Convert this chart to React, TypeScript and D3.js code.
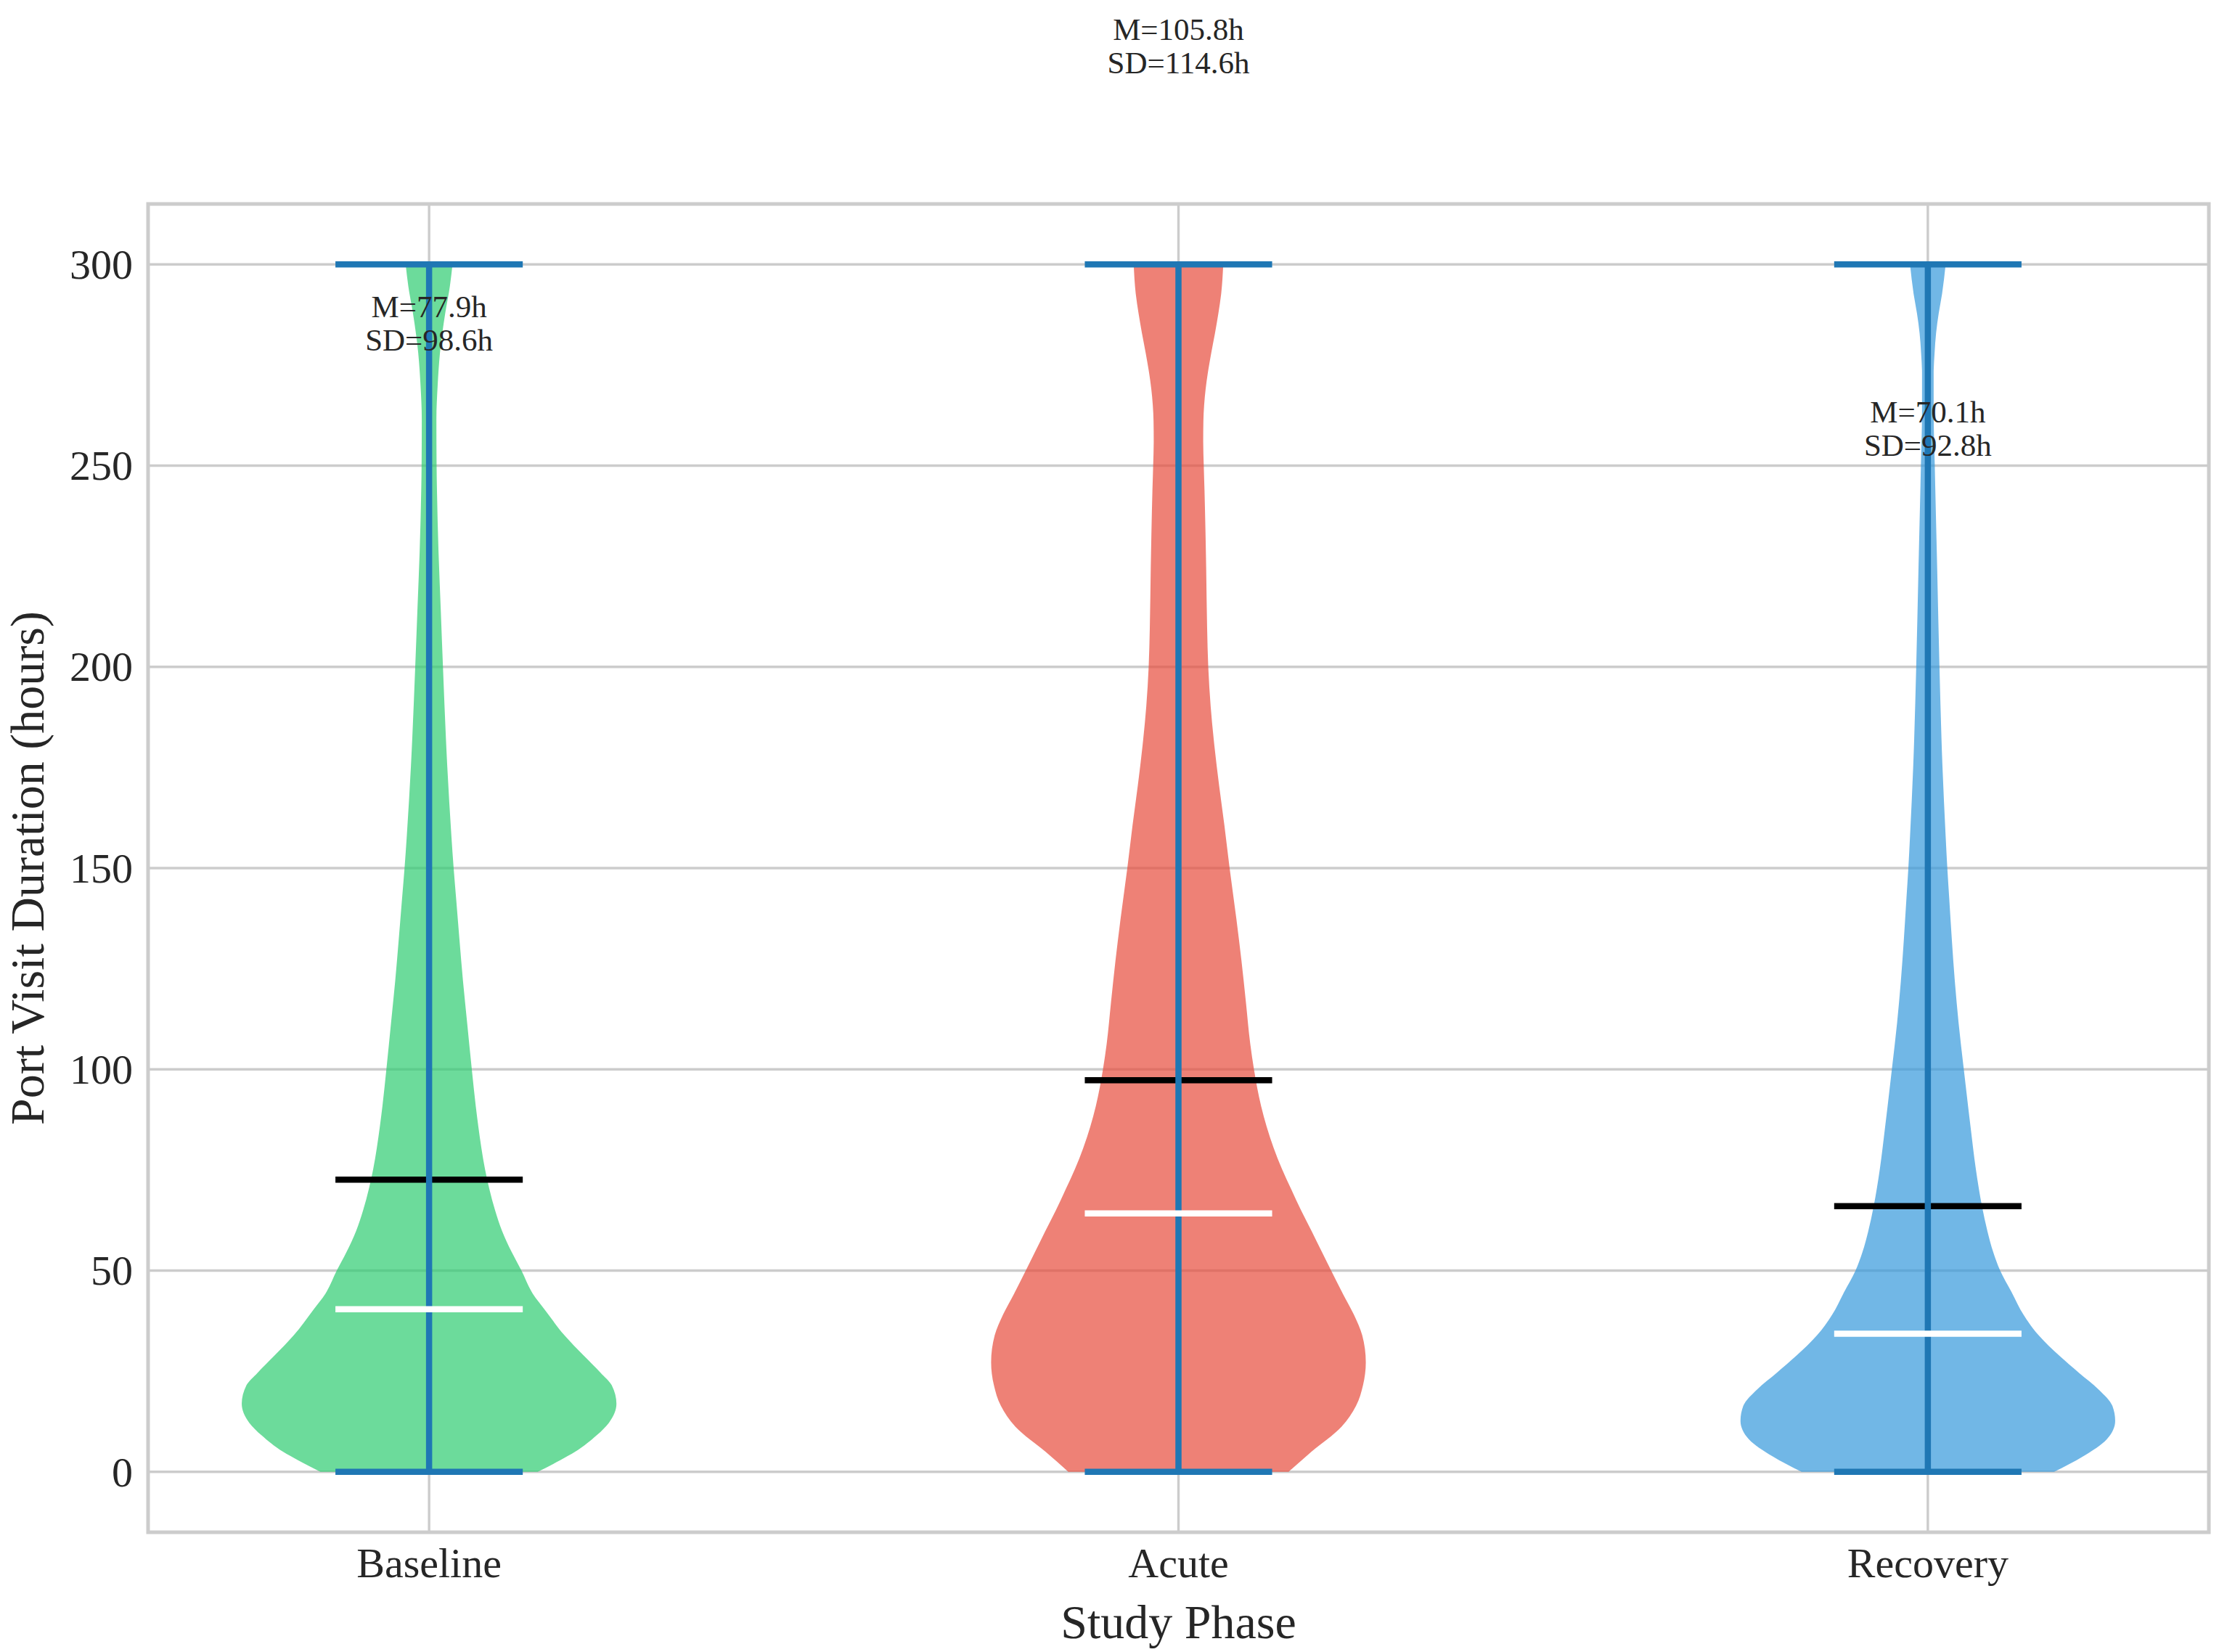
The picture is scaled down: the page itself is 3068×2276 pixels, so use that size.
import { useEffect, useRef } from 'react';
import * as d3 from 'd3';

const phases = ['Baseline', 'Acute', 'Recovery'];
const phaseFills = ['#2ecc71', '#e74c3c', '#3498db'];
const yTicks = [0, 50, 100, 150, 200, 250, 300];

// violin outlines: [hours, half-width as a share of the widest point]
const baselineShape: [number, number][] = [
  [0, 0.58], [2.9, 0.7], [5, 0.78], [9.1, 0.895], [12.2, 0.96], [16.9, 1.0], [21.5, 0.975],
  [24.6, 0.916], [28.8, 0.827], [33.9, 0.723], [40.2, 0.619], [44.3, 0.553], [50, 0.493],
  [54.6, 0.441], [59.8, 0.39], [65, 0.352], [70.2, 0.322], [75.3, 0.298], [80.5, 0.279],
  [85.7, 0.263], [90.9, 0.249], [100, 0.228], [111.6, 0.203], [121.9, 0.181], [132.3, 0.162],
  [142.6, 0.144], [150, 0.131], [158, 0.119], [175.3, 0.097], [200, 0.074], [214.5, 0.062],
  [229.1, 0.05], [243.8, 0.042], [250, 0.04], [261.4, 0.039], [270.2, 0.046], [278, 0.058],
  [287.8, 0.086], [294.6, 0.111], [300, 0.125],
];

const acuteShape: [number, number][] = [
  [0, 0.588], [5, 0.71], [11.2, 0.87], [16.4, 0.948], [21.5, 0.985], [27.2, 1.0], [33.9, 0.981],
  [39.1, 0.936], [44.3, 0.877], [50, 0.815], [54.6, 0.766], [59.8, 0.711], [65, 0.654],
  [70.2, 0.602], [75.3, 0.552], [80.5, 0.508], [85.7, 0.471], [90.9, 0.441], [100, 0.403],
  [106.4, 0.383], [116.7, 0.36], [127.1, 0.336], [137.4, 0.309], [150, 0.273], [160.7, 0.245],
  [170.5, 0.217], [180.3, 0.192], [190.1, 0.172], [200, 0.159], [209.6, 0.153], [224.2, 0.148],
  [234, 0.144], [243.8, 0.139], [250, 0.135], [256, 0.132], [261, 0.133], [265, 0.137],
  [269, 0.145], [273.1, 0.157], [278, 0.175], [282.9, 0.195], [287.8, 0.213], [292.7, 0.228],
  [300, 0.239],
];

const recoveryShape: [number, number][] = [
  [0, 0.674], [3.9, 0.83], [8.1, 0.955], [12.7, 1.0], [16.4, 0.985], [20.5, 0.911], [24.6, 0.807],
  [28.8, 0.703], [33.9, 0.592], [39.1, 0.51], [44.3, 0.451], [50, 0.386], [54.6, 0.349],
  [59.8, 0.318], [66, 0.289], [75.3, 0.256], [85.7, 0.228], [100, 0.192], [111.6, 0.164],
  [121.9, 0.144], [132.3, 0.128], [142.6, 0.114], [150, 0.104], [158, 0.095], [175.3, 0.078],
  [200, 0.062], [224.2, 0.05], [243.8, 0.04], [250, 0.037], [263.3, 0.031], [273.1, 0.031],
  [278, 0.036], [282.9, 0.044], [287.8, 0.058], [292.7, 0.076], [300, 0.095],
];

const shapes = [baselineShape, acuteShape, recoveryShape];
const mins = [0, 0, 0];
const maxes = [300, 300, 300];
const means = [72.6, 97.3, 66.0];
const medians = [40.4, 64.2, 34.3];

// annotation text and the value its lower line sits on
const labelMeans = [77.9, 105.8, 70.1];
const labelSds = [98.6, 114.6, 92.8];
const labelAt = [278.5, 347.5, 252.5];

const W = 3068;
const H = 2276;
const FONT = '"Liberation Serif", "Times New Roman", serif';
const TEXT = '#262626';
const LINE_W = 8.5;

export default function App() {
  const svgRef = useRef<SVGSVGElement>(null);

  useEffect(() => {
    document.body.style.margin = '0';
    if (!svgRef.current) return;

    const svg = d3.select(svgRef.current);
    svg.selectAll('*').remove();

    const margin = { top: 281, right: 25, bottom: 165, left: 204 };
    const x = d3.scaleLinear().domain([0.625, 3.375]).range([margin.left, W - margin.right]);
    const y = d3.scaleLinear().domain([-15, 315]).range([H - margin.bottom, margin.top]);
    const [x0, x1] = x.range();
    const [yb, yt] = y.range();

    // grid
    const grid = svg.append('g').attr('stroke', '#cccccc').attr('stroke-width', 3.4);
    grid.selectAll('.hgrid')
      .data(yTicks)
      .enter()
      .append('line')
      .attr('x1', x0)
      .attr('x2', x1)
      .attr('y1', (d) => y(d))
      .attr('y2', (d) => y(d));
    grid.selectAll('.vgrid')
      .data(phases)
      .enter()
      .append('line')
      .attr('x1', (_, i) => x(i + 1))
      .attr('x2', (_, i) => x(i + 1))
      .attr('y1', yt)
      .attr('y2', yb);

    const halfMax = x(1.25) - x(1);
    const capHalf = x(1.125) - x(1);

    // violin bodies
    phases.forEach((_, i) => {
      const cx = x(i + 1);
      const area = d3
        .area<[number, number]>()
        .y((d) => y(d[0]))
        .x0((d) => cx - d[1] * halfMax)
        .x1((d) => cx + d[1] * halfMax)
        .curve(d3.curveMonotoneY);
      svg.append('path')
        .attr('d', area(shapes[i]) || '')
        .attr('fill', phaseFills[i])
        .attr('fill-opacity', 0.7);
    });

    const hLines = (vals: number[], color: string) => {
      svg.append('g')
        .selectAll('line')
        .data(vals)
        .enter()
        .append('line')
        .attr('x1', (_, i) => x(i + 1) - capHalf)
        .attr('x2', (_, i) => x(i + 1) + capHalf)
        .attr('y1', (d) => y(d))
        .attr('y2', (d) => y(d))
        .attr('stroke', color)
        .attr('stroke-width', LINE_W);
    };

    hLines(means, '#000000');
    hLines(maxes, '#1f77b4');
    hLines(mins, '#1f77b4');

    svg.append('g')
      .selectAll('line')
      .data(phases)
      .enter()
      .append('line')
      .attr('x1', (_, i) => x(i + 1))
      .attr('x2', (_, i) => x(i + 1))
      .attr('y1', (_, i) => y(mins[i]))
      .attr('y2', (_, i) => y(maxes[i]))
      .attr('stroke', '#1f77b4')
      .attr('stroke-width', LINE_W);

    hLines(medians, '#ffffff');

    // spines
    svg.append('rect')
      .attr('x', x0)
      .attr('y', yt)
      .attr('width', x1 - x0)
      .attr('height', yb - yt)
      .attr('fill', 'none')
      .attr('stroke', '#cccccc')
      .attr('stroke-width', 5);

    // y tick labels
    svg.append('g')
      .selectAll('text')
      .data(yTicks)
      .enter()
      .append('text')
      .attr('x', x0 - 21)
      .attr('y', (d) => y(d))
      .attr('dy', '0.34em')
      .attr('text-anchor', 'end')
      .style('font-family', FONT)
      .style('font-size', '58px')
      .style('fill', TEXT)
      .text((d) => String(d));

    // x tick labels
    svg.append('g')
      .selectAll('text')
      .data(phases)
      .enter()
      .append('text')
      .attr('x', (_, i) => x(i + 1))
      .attr('y', 2173)
      .attr('text-anchor', 'middle')
      .style('font-family', FONT)
      .style('font-size', '58px')
      .style('fill', TEXT)
      .text((d) => d);

    // axis titles
    svg.append('text')
      .attr('x', (x0 + x1) / 2)
      .attr('y', 2257)
      .attr('text-anchor', 'middle')
      .style('font-family', FONT)
      .style('font-size', '66px')
      .style('fill', TEXT)
      .text('Study Phase');

    const yMid = (yt + yb) / 2;
    svg.append('text')
      .attr('transform', `translate(60,${yMid}) rotate(-90)`)
      .attr('text-anchor', 'middle')
      .style('font-family', FONT)
      .style('font-size', '66px')
      .style('fill', TEXT)
      .text('Port Visit Duration (hours)');

    // mean / sd annotations
    const notes = svg.append('g')
      .selectAll('text')
      .data(phases)
      .enter()
      .append('text')
      .attr('text-anchor', 'middle')
      .style('font-family', FONT)
      .style('font-size', '43px')
      .style('fill', TEXT);
    notes.append('tspan')
      .attr('x', (_, i) => x(i + 1))
      .attr('y', (_, i) => y(labelAt[i]) - 46)
      .text((_, i) => `M=${labelMeans[i].toFixed(1)}h`);
    notes.append('tspan')
      .attr('x', (_, i) => x(i + 1))
      .attr('y', (_, i) => y(labelAt[i]))
      .text((_, i) => `SD=${labelSds[i].toFixed(1)}h`);
  }, []);

  return (
    <div style={{ width: W, height: H }}>
      <svg ref={svgRef} width={W} height={H} style={{ display: 'block', background: '#ffffff' }} />
    </div>
  );
}
